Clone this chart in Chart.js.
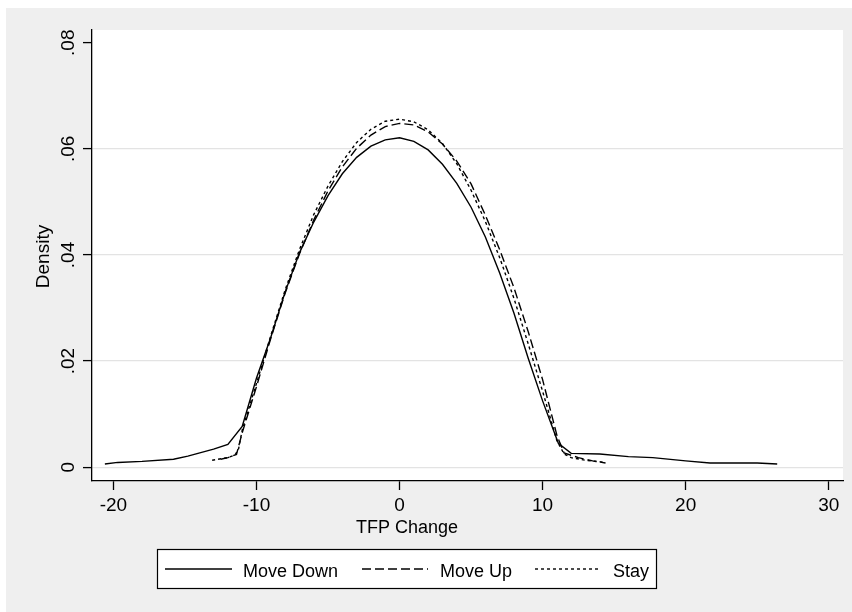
<!DOCTYPE html>
<html>
<head>
<meta charset="utf-8">
<script src="https://cdn.jsdelivr.net/npm/chart.js@4.4.1/dist/chart.umd.min.js"></script>
<style>
html,body{margin:0;padding:0;background:#fff;}
#wrap{width:852px;height:612px;}
</style>
</head>
<body>
<div id="wrap"><canvas id="myChart" width="852" height="612"></canvas></div>
<script>
// kernel density of TFP change
const downX = [-20.6, -19.7, -18, -15.8, -14.8, -13, -12, -11, -10, -9, -8, -7, -6, -5, -4, -3, -2, -1, 0, 1, 2, 3, 4, 5, 6, 7, 8, 9, 10, 11.1, 12, 14, 16, 17.7, 20, 21.7, 25, 26.4];
const downY = [0.0006, 0.0009, 0.0011, 0.0015, 0.0021, 0.0034, 0.0043, 0.0077, 0.0168, 0.0245, 0.0330, 0.0404, 0.0462, 0.0512, 0.0553, 0.0584, 0.0605, 0.0617, 0.0621, 0.0614, 0.0598, 0.0571, 0.0535, 0.0490, 0.0434, 0.0366, 0.0290, 0.0205, 0.0125, 0.0045, 0.0026, 0.0025, 0.0020, 0.0018, 0.0012, 0.0008, 0.0008, 0.0006];

const upX = [-12.5, -12, -11.4, -11, -10, -9, -8, -7, -6, -5, -4, -3, -2, -1, 0, 1, 2, 3, 4, 5, 6, 7, 8, 9, 10, 11, 11.5, 12.5, 13.5, 14.4];
const upY = [0.0015, 0.0018, 0.0024, 0.0065, 0.0152, 0.0243, 0.0328, 0.0402, 0.0466, 0.0521, 0.0566, 0.0601, 0.0626, 0.0642, 0.0648, 0.0645, 0.0632, 0.0609, 0.0577, 0.0534, 0.0475, 0.0410, 0.0338, 0.0255, 0.0165, 0.0060, 0.0027, 0.0018, 0.0012, 0.0008];

const stayX = [-13.1, -12, -11.5, -11.25, -11, -10.3, -10, -9, -8, -7, -6, -5, -4, -3, -2, -1, 0, 1, 2, 3, 4, 5, 6, 7, 8, 9, 10, 11, 11.5, 12, 13, 14.4];
const stayY = [0.0013, 0.0018, 0.0023, 0.0035, 0.0070, 0.0132, 0.0158, 0.0248, 0.0334, 0.0410, 0.0476, 0.0530, 0.0576, 0.0612, 0.0637, 0.0652, 0.0656, 0.0651, 0.0636, 0.0610, 0.0572, 0.0522, 0.0463, 0.0395, 0.0318, 0.0232, 0.0143, 0.0050, 0.0025, 0.0018, 0.0013, 0.0009];

const seriesNames = ['Move Down', 'Move Up', 'Stay'];
const xTicks = [-20, -10, 0, 10, 20, 30];
const yTicks = [0, 0.02, 0.04, 0.06, 0.08];
const xTitle = 'TFP Change';
const yTitle = 'Density';

const FONT = '"Liberation Sans", Arial, Helvetica, sans-serif';

function pts(xs, ys) {
  return xs.map((x, i) => ({x: x, y: ys[i]}));
}
function yLabel(v) {
  if (Math.abs(v) < 1e-9) return '0';
  return v.toFixed(2).replace(/^0/, '');
}

const stataLook = {
  id: 'stataLook',
  beforeDraw(chart) {
    const c = chart.ctx, a = chart.chartArea;
    c.save();
    c.fillStyle = '#ffffff';
    c.fillRect(0, 0, chart.width, chart.height);
    c.fillStyle = '#efefef';
    c.fillRect(6, 8, chart.width - 6, chart.height - 8);
    c.fillStyle = '#ffffff';
    c.fillRect(a.left, a.top, a.right - a.left, a.bottom - a.top);
    c.restore();
  },
  afterDraw(chart) {
    const c = chart.ctx, a = chart.chartArea, ys = chart.scales.y;
    c.save();
    c.fillStyle = '#000';
    // rotated y tick labels
    c.font = '19px ' + FONT;
    c.textAlign = 'center';
    c.textBaseline = 'alphabetic';
    yTicks.forEach(v => {
      const py = ys.getPixelForValue(v);
      c.save();
      c.translate(73.5, py);
      c.rotate(-Math.PI / 2);
      c.fillText(yLabel(v), 0, 0);
      c.restore();
    });
    // y title
    c.save();
    c.translate(49, (a.top + a.bottom) / 2 + 1);
    c.rotate(-Math.PI / 2);
    c.fillText(yTitle, 0, 0);
    c.restore();
    // x title
    c.font = '18px ' + FONT;
    c.fillText(xTitle, 407, 533);

    // legend
    c.fillStyle = '#fff';
    c.fillRect(157, 549, 499, 39);
    c.strokeStyle = '#000';
    c.lineWidth = 1.2;
    c.strokeRect(157.5, 549.5, 499, 39);
    const slots = [[165, 232, 243], [362, 428, 440], [535, 601, 613]];
    c.textAlign = 'left';
    chart.data.datasets.forEach((ds, i) => {
      const s = slots[i];
      c.beginPath();
      c.setLineDash(ds.borderDash || []);
      c.lineWidth = ds.borderWidth;
      c.moveTo(s[0], 569);
      c.lineTo(s[1], 569);
      c.stroke();
      c.setLineDash([]);
      c.fillStyle = '#000';
      c.fillText(ds.label, s[2], 577);
    });
    c.restore();
  }
};

const ctx = document.getElementById('myChart').getContext('2d');
const chart = new Chart(ctx, {
  type: 'line',
  data: {
    datasets: [
      {label: seriesNames[0], data: pts(downX, downY), borderColor: '#000', borderWidth: 1.4, borderDash: []},
      {label: seriesNames[1], data: pts(upX, upY), borderColor: '#000', borderWidth: 1.4, borderDash: [9, 4]},
      {label: seriesNames[2], data: pts(stayX, stayY), borderColor: '#000', borderWidth: 1.4, borderDash: [3, 3]}
    ]
  },
  options: {
    responsive: false,
    devicePixelRatio: 1,
    animation: false,
    parsing: true,
    elements: {point: {radius: 0}, line: {tension: 0, fill: false}},
    layout: {padding: {left: 0, right: 9, top: 30, bottom: 0}},
    plugins: {legend: {display: false}, tooltip: {enabled: false}},
    scales: {
      x: {
        type: 'linear',
        min: -21.5, max: 31,
        afterBuildTicks: s => { s.ticks = xTicks.map(v => ({value: v})); },
        ticks: {color: '#000', font: {size: 19, family: FONT}, padding: 4, maxRotation: 0},
        grid: {drawOnChartArea: false, tickLength: 9, tickColor: '#000', tickWidth: 1.3},
        border: {color: '#000', width: 1.3},
        afterFit: s => { s.height = 131; }
      },
      y: {
        type: 'linear',
        min: -0.0026, max: 0.0824,
        afterBuildTicks: s => { s.ticks = yTicks.map(v => ({value: v})); },
        ticks: {display: false},
        grid: {
          color: c => (c.tick && c.tick.value > 0.07) ? 'rgba(0,0,0,0)' : '#e3e3e3',
          lineWidth: 1.2,
          tickLength: 9, tickColor: '#000', tickWidth: 1.3
        },
        border: {color: '#000', width: 1.3},
        afterFit: s => { s.width = 92; }
      }
    }
  },
  plugins: [stataLook]
});
</script>
</body>
</html>
